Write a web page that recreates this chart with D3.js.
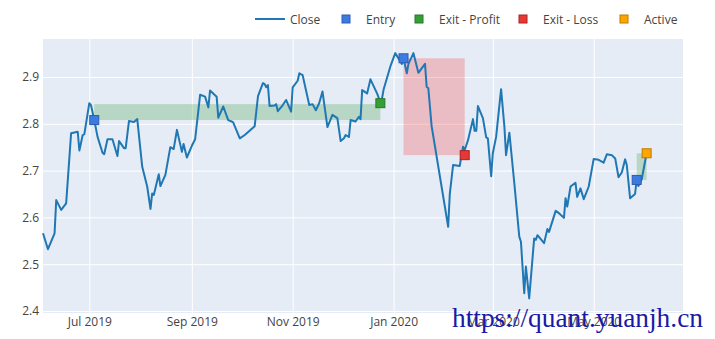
<!DOCTYPE html>
<html><head><meta charset="utf-8">
<script src="https://cdn.jsdelivr.net/npm/d3@7/dist/d3.min.js"></script>
<style>html,body{margin:0;padding:0;background:#fff;}svg{display:block;}</style>
</head><body>
<svg id="chart" width="715" height="339"></svg>
<script>
const dates = ["2019-06-03","2019-06-06","2019-06-10","2019-06-11","2019-06-14","2019-06-17","2019-06-20","2019-06-24","2019-06-25","2019-06-27","2019-06-28","2019-07-01","2019-07-02","2019-07-04","2019-07-06","2019-07-09","2019-07-10","2019-07-12","2019-07-15","2019-07-18","2019-07-19","2019-07-22","2019-07-23","2019-07-25","2019-07-28","2019-07-30","2019-08-02","2019-08-05","2019-08-07","2019-08-08","2019-08-09","2019-08-12","2019-08-13","2019-08-16","2019-08-19","2019-08-21","2019-08-23","2019-08-26","2019-08-27","2019-08-29","2019-09-01","2019-09-03","2019-09-06","2019-09-09","2019-09-11","2019-09-12","2019-09-16","2019-09-17","2019-09-20","2019-09-23","2019-09-25","2019-09-26","2019-09-30","2019-10-03","2019-10-09","2019-10-11","2019-10-14","2019-10-15","2019-10-16","2019-10-17","2019-10-18","2019-10-21","2019-10-22","2019-10-23","2019-10-26","2019-10-28","2019-10-31","2019-11-01","2019-11-04","2019-11-05","2019-11-07","2019-11-11","2019-11-13","2019-11-15","2019-11-17","2019-11-19","2019-11-22","2019-11-25","2019-11-28","2019-11-30","2019-12-02","2019-12-03","2019-12-05","2019-12-06","2019-12-09","2019-12-11","2019-12-12","2019-12-13","2019-12-16","2019-12-18","2019-12-22","2019-12-24","2019-12-25","2019-12-26","2019-12-30","2020-01-02","2020-01-06","2020-01-07","2020-01-09","2020-01-10","2020-01-13","2020-01-16","2020-01-20","2020-01-21","2020-01-22","2020-01-24","2020-02-03","2020-02-04","2020-02-06","2020-02-10","2020-02-12","2020-02-13","2020-02-15","2020-02-18","2020-02-19","2020-02-20","2020-02-21","2020-02-24","2020-02-26","2020-02-27","2020-02-29","2020-03-01","2020-03-03","2020-03-06","2020-03-08","2020-03-09","2020-03-11","2020-03-14","2020-03-17","2020-03-18","2020-03-20","2020-03-21","2020-03-23","2020-03-26","2020-03-27","2020-03-28","2020-04-01","2020-04-03","2020-04-04","2020-04-08","2020-04-10","2020-04-13","2020-04-14","2020-04-15","2020-04-17","2020-04-20","2020-04-21","2020-04-23","2020-04-25","2020-04-28","2020-05-01","2020-05-04","2020-05-07","2020-05-09","2020-05-12","2020-05-14","2020-05-16","2020-05-18","2020-05-20","2020-05-21","2020-05-23","2020-05-26","2020-05-27","2020-05-28","2020-05-30","2020-06-02"];
const closes = [2.566,2.532,2.566,2.637,2.616,2.630,2.780,2.783,2.743,2.776,2.778,2.844,2.840,2.808,2.772,2.738,2.735,2.767,2.767,2.731,2.763,2.748,2.748,2.806,2.804,2.810,2.708,2.666,2.618,2.651,2.648,2.692,2.667,2.691,2.750,2.746,2.787,2.740,2.757,2.728,2.753,2.767,2.862,2.858,2.835,2.871,2.858,2.813,2.837,2.808,2.805,2.803,2.769,2.776,2.795,2.859,2.887,2.885,2.878,2.883,2.838,2.839,2.842,2.827,2.840,2.851,2.826,2.878,2.892,2.908,2.904,2.840,2.842,2.829,2.844,2.869,2.793,2.819,2.812,2.763,2.769,2.776,2.772,2.808,2.805,2.815,2.810,2.872,2.865,2.895,2.865,2.846,2.854,2.874,2.922,2.951,2.928,2.940,2.908,2.928,2.951,2.909,2.928,2.879,2.876,2.795,2.580,2.651,2.712,2.710,2.751,2.744,2.765,2.810,2.785,2.785,2.838,2.812,2.771,2.769,2.688,2.737,2.772,2.874,2.794,2.733,2.781,2.673,2.559,2.548,2.438,2.495,2.427,2.555,2.552,2.562,2.545,2.575,2.569,2.614,2.609,2.599,2.641,2.623,2.666,2.674,2.644,2.662,2.639,2.666,2.725,2.723,2.717,2.735,2.733,2.726,2.686,2.696,2.724,2.712,2.641,2.650,2.680,2.667,2.681,2.737];

const entryDates = ["2019-07-04","2020-01-07","2020-05-27"];
const entryPrices = [2.808,2.940,2.680];
const exitProfitDates = ["2019-12-24"];
const exitProfitPrices = [2.844];
const exitLossDates = ["2020-02-13"];
const exitLossPrices = [2.733];
const activeDates = ["2020-06-02"];
const activePrices = [2.737];

const tradeStart = ["2019-07-04","2020-01-07","2020-05-27"];
const tradeEnd = ["2019-12-24","2020-02-13","2020-06-02"];
const tradeLow = [2.808,2.733,2.680];
const tradeHigh = [2.842,2.940,2.737];
const tradeKind = ["profit","loss","profit"];

const yTicks = [2.4,2.5,2.6,2.7,2.8,2.9];
const xTickDates = ["2019-07-01","2019-09-01","2019-11-01","2020-01-01","2020-03-01","2020-05-01"];
const xTickLabels = ["Jul 2019","Sep 2019","Nov 2019","Jan 2020","Mar 2020","May 2020"];
const legendLabels = ["Close","Entry","Exit - Profit","Exit - Loss","Active"];

const parse = d3.utcParse("%Y-%m-%d");
const svg = d3.select("#chart");
const L = 43, R = 683, T = 39, B = 313;
const x = d3.scaleUtc().domain([parse("2019-06-03"), parse("2020-06-24")]).range([L, R]);
const y = d3.scaleLinear().domain([2.3957, 2.9812]).range([B, T]);
const FONT = '"Open Sans", verdana, arial, sans-serif';

svg.append("rect").attr("x", L).attr("y", T).attr("width", R - L).attr("height", B - T).attr("fill", "#e5ecf6");

const gx = svg.append("g").attr("transform", `translate(0,${B})`)
  .call(d3.axisBottom(x).tickValues(xTickDates.map(parse)).tickSize(-(B - T)).tickFormat((d, i) => xTickLabels[i]));
gx.select(".domain").remove();
gx.selectAll(".tick line").attr("stroke", "#fff").attr("stroke-width", 1);
gx.selectAll(".tick text").attr("fill", "#444").attr("font-size", 12).attr("font-family", FONT).attr("dy", null).attr("y", 13);

const gy = svg.append("g").attr("transform", `translate(${L},0)`)
  .call(d3.axisLeft(y).tickValues(yTicks).tickSize(-(R - L)).tickFormat(d3.format(".1f")));
gy.select(".domain").remove();
gy.selectAll(".tick line").attr("stroke", "#fff").attr("stroke-width", 1);
gy.selectAll(".tick text").attr("fill", "#444").attr("font-size", 12).attr("font-family", FONT).attr("x", -4);

svg.append("g").selectAll("rect").data(tradeStart).join("rect")
  .attr("x", (d, i) => x(parse(d)))
  .attr("width", (d, i) => x(parse(tradeEnd[i])) - x(parse(d)))
  .attr("y", (d, i) => y(tradeHigh[i]))
  .attr("height", (d, i) => y(tradeLow[i]) - y(tradeHigh[i]))
  .attr("fill", (d, i) => tradeKind[i] === "profit" ? "rgb(0,128,0)" : "rgb(255,0,0)")
  .attr("fill-opacity", 0.2);

const pts = dates.map((d, i) => [parse(d), closes[i]]);
svg.append("path").datum(pts)
  .attr("fill", "none").attr("stroke", "#1f77b4").attr("stroke-width", 2).attr("stroke-linejoin", "round")
  .attr("d", d3.line().x(d => x(d[0])).y(d => y(d[1])));

const markerSets = [
  {ds: entryDates, ps: entryPrices, fill: "#3d7be0", stroke: "#2a5db8"},
  {ds: exitProfitDates, ps: exitProfitPrices, fill: "#34a034", stroke: "#23792a"},
  {ds: exitLossDates, ps: exitLossPrices, fill: "#e53935", stroke: "#b02020"},
  {ds: activeDates, ps: activePrices, fill: "#ffa500", stroke: "#c07800"}
];
const S = 9;
markerSets.forEach(ms => {
  svg.append("g").selectAll("rect").data(ms.ds).join("rect")
    .attr("x", d => x(parse(d)) - S / 2)
    .attr("y", (d, i) => y(ms.ps[i]) - S / 2)
    .attr("width", S).attr("height", S)
    .attr("fill", ms.fill).attr("stroke", ms.stroke).attr("stroke-width", 1);
});

const lg = svg.append("g");
lg.append("line").attr("x1", 255).attr("x2", 285).attr("y1", 19).attr("y2", 19).attr("stroke", "#1f77b4").attr("stroke-width", 2);
const legItems = [
  {mx: null, tx: 290},
  {mx: 346, tx: 366, ms: markerSets[0]},
  {mx: 419, tx: 439, ms: markerSets[1]},
  {mx: 523, tx: 543, ms: markerSets[2]},
  {mx: 624, tx: 644, ms: markerSets[3]}
];
legItems.forEach((it, i) => {
  if (it.mx !== null) {
    lg.append("rect").attr("x", it.mx - 4).attr("y", 19 - 4).attr("width", 8).attr("height", 8)
      .attr("fill", it.ms.fill).attr("stroke", it.ms.stroke).attr("stroke-width", 1);
  }
  lg.append("text").attr("x", it.tx).attr("y", 23.5).attr("fill", "#444").attr("font-size", 12)
    .attr("font-family", FONT).text(legendLabels[i]);
});

svg.append("text").attr("x", 452).attr("y", 327).attr("fill", "#1a1aa8")
  .attr("font-family", '"Liberation Serif", "Times New Roman", serif').attr("font-size", 27)
  .attr("textLength", 251).attr("lengthAdjust", "spacingAndGlyphs")
  .text("https://quant.yuanjh.cn");
</script>
</body></html>
